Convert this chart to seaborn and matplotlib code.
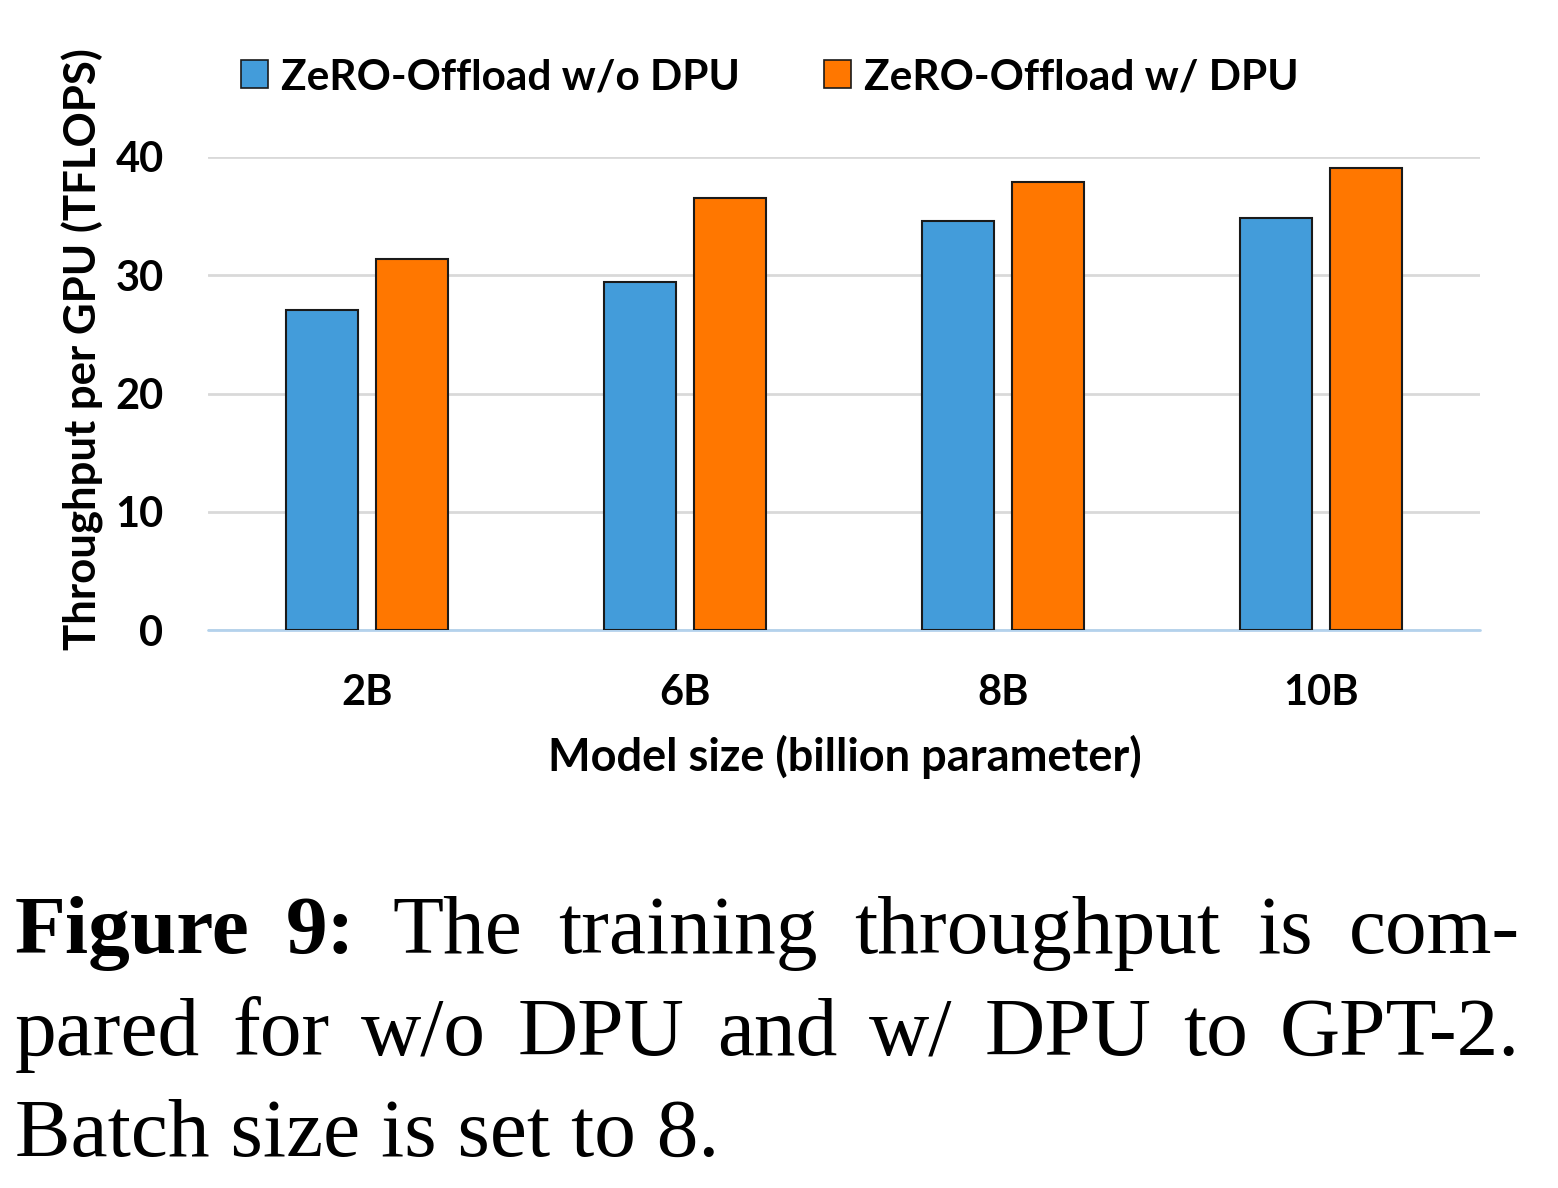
import matplotlib
matplotlib.use('Agg')
import matplotlib.pyplot as plt
import seaborn as sns
import pandas as pd

# chart values
model_sizes = ['2B', '6B', '8B', '10B']
without_dpu = [27.1, 29.4, 34.6, 34.8]
with_dpu = [31.4, 36.5, 37.9, 39.1]
series_names = ['ZeRO-Offload w/o DPU', 'ZeRO-Offload w/ DPU']
y_ticks = [0, 10, 20, 30, 40]

caption_line1 = ['Figure', '9:', 'The', 'training', 'throughput', 'is', 'com-']
caption_line2 = ['pared', 'for', 'w/o', 'DPU', 'and', 'w/', 'DPU', 'to', 'GPT-2.']
caption_line3 = 'Batch size is set to 8.'

df = pd.DataFrame({
    'Model size': model_sizes * 2,
    'Throughput': without_dpu + with_dpu,
    'Series': [series_names[0]] * 4 + [series_names[1]] * 4,
})

colors = ['#439cda', '#ff7700']

sns.set_style('white')
plt.rcParams['font.family'] = ['Lato', 'DejaVu Sans']
for key in ['text.color', 'axes.labelcolor', 'xtick.color', 'ytick.color']:
    plt.rcParams[key] = 'black'

W, H = 1558, 1188
fig = plt.figure(figsize=(W / 100, H / 100), dpi=100)
ax = fig.add_axes([208 / W, 1 - 630 / H, (1480 - 208) / W, (630 - 157) / H])

sns.barplot(data=df, x='Model size', y='Throughput', hue='Series',
            palette=colors, saturation=1, width=0.566, gap=0.2,
            edgecolor='#1a1a1a', linewidth=1.5, ax=ax, legend=False)

ax.set_ylim(0, 40)
ax.set_xlim(-0.5, 3.5)
ax.set_yticks(y_ticks)
ax.yaxis.grid(True, color='#d9d9d9', linewidth=2)
ax.set_axisbelow(True)
for s in ['top', 'right', 'left', 'bottom']:
    ax.spines[s].set_visible(False)
# light blue baseline like the Excel original
ax.axhline(0, color='#b4d2ec', linewidth=2, zorder=0.9, clip_on=False)
ax.tick_params(axis='both', length=0, labelsize=30)
ax.tick_params(axis='y', pad=32)
ax.tick_params(axis='x', pad=32)
for lbl in ax.get_xticklabels() + ax.get_yticklabels():
    lbl.set_fontweight('bold')

ax.set_xlabel('Model size (billion parameter)', fontsize=32.5, fontweight='bold')
ax.set_ylabel('Throughput per GPU (TFLOPS)', fontsize=31.5, fontweight='bold')
ax.xaxis.set_label_coords((845 - 208) / 1272, (630 - 757) / 473)
ax.xaxis.label.set_va('center')
ax.yaxis.set_label_coords((83 - 208) / 1272, (630 - 349) / 473)
ax.yaxis.label.set_va('center')

handles = [plt.Rectangle((0, 0), 1, 1, facecolor=c, edgecolor='#1a1a1a', linewidth=1.2)
           for c in colors]
fig.legend(handles, series_names, loc='center', bbox_to_anchor=(770 / W, 1 - 77 / H),
           ncol=2, frameon=False, prop={'weight': 'bold', 'size': 30.5},
           handlelength=0.62, handleheight=0.62, handletextpad=0.31, columnspacing=2.0)

# caption, justified like the paper text
cap_font = {'family': 'Liberation Serif', 'size': 60}
renderer = fig.canvas.get_renderer()
x_left, x_right = 15 / W, 1520 / W


def justified(words, y, bold_count=0):
    texts = []
    total = 0
    for i, w in enumerate(words):
        t = fig.text(0, y, w, fontdict=cap_font, va='baseline', ha='left',
                     fontweight='bold' if i < bold_count else 'normal')
        bb = t.get_window_extent(renderer)
        texts.append((t, bb.width / W))
        total += bb.width / W
    space = (x_right - x_left - total) / (len(words) - 1)
    x = x_left
    for t, wd in texts:
        t.set_x(x)
        x += wd + space


justified(caption_line1, 1 - 953 / H, bold_count=2)
justified(caption_line2, 1 - 1055 / H)
fig.text(x_left, 1 - 1156 / H, caption_line3, fontdict=cap_font, va='baseline', ha='left')

fig.savefig('out.png', dpi=100, facecolor='white')
